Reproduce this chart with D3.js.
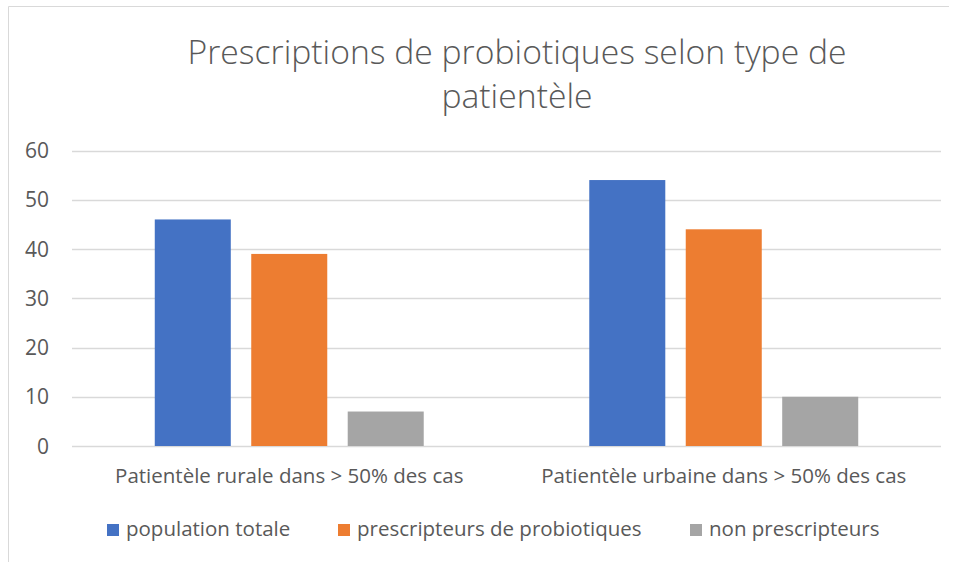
<!DOCTYPE html>
<html>
<head>
<meta charset="utf-8">
<script src="https://cdn.jsdelivr.net/npm/d3@7"></script>
<style>
  body { margin: 0; background: #fff; }
  text { font-family: "Open Sans", sans-serif; fill: #595959; }
</style>
</head>
<body>
<div id="chart"></div>
<script>
// data
const categories = ["Patientèle rurale dans > 50% des cas", "Patientèle urbaine dans > 50% des cas"];
const seriesNames = ["population totale", "prescripteurs de probiotiques", "non prescripteurs"];
const populationTotale = [46, 54];
const prescripteurs = [39, 44];
const nonPrescripteurs = [7, 10];
const yTicks = [0, 10, 20, 30, 40, 50, 60];
const colors = ["#4472C4", "#ED7D31", "#A5A5A5"];
const titleLines = ["Prescriptions de probiotiques selon type de", "patientèle"];

const seriesValues = [populationTotale, prescripteurs, nonPrescripteurs];
const table = categories.map((c, i) => ({
  cat: c,
  vals: seriesNames.map((s, j) => ({ name: s, value: seriesValues[j][i], idx: j }))
}));

const W = 958, H = 562;
const plot = { left: 72, right: 941, top: 150.5, bottom: 446 };

const svg = d3.select("#chart").append("svg")
    .attr("width", W)
    .attr("height", H);

svg.append("rect").attr("width", W).attr("height", H).attr("fill", "#fff");

// chart area border (top + left visible)
svg.append("path")
    .attr("d", "M8.5,562 V6.5 H949")
    .attr("fill", "none")
    .attr("stroke", "#d9d9d9")
    .attr("stroke-width", 1);

// title
svg.append("g").selectAll("text")
    .data(titleLines)
    .join("text")
    .attr("x", 517)
    .attr("y", (d, i) => 64 + i * 44)
    .attr("text-anchor", "middle")
    .style("font-size", "33.7px")
    .style("font-weight", 300)
    .text(d => d);

const y = d3.scaleLinear().domain([0, 60]).range([plot.bottom, plot.top]);
const x0 = d3.scaleBand().domain(categories).range([plot.left, plot.right]).padding(0);
const x1 = d3.scaleBand().domain(seriesNames).range([0, x0.bandwidth()])
    .paddingInner(0.212).paddingOuter(0.858);

// gridlines
svg.append("g").selectAll("line")
    .data(yTicks)
    .join("line")
    .attr("x1", plot.left)
    .attr("x2", plot.right)
    .attr("y1", d => Math.round(y(d)) + 0.5)
    .attr("y2", d => Math.round(y(d)) + 0.5)
    .attr("stroke", "#d9d9d9")
    .attr("stroke-width", 1.3);

// y axis labels
const yAxis = svg.append("g")
    .attr("transform", `translate(${plot.left - 23},0)`)
    .call(d3.axisLeft(y).tickValues(yTicks).tickSize(0).tickPadding(0));
yAxis.select(".domain").remove();
yAxis.selectAll("text")
    .attr("dy", "0.34em")
    .style("font-size", "21px")
    .style("font-family", "'Open Sans', sans-serif")
    .attr("fill", "#595959");

// bars
svg.append("g").selectAll("g")
    .data(table)
    .join("g")
    .attr("transform", d => `translate(${x0(d.cat)},0)`)
    .selectAll("rect")
    .data(d => d.vals)
    .join("rect")
    .attr("x", d => x1(d.name))
    .attr("y", d => y(d.value))
    .attr("width", x1.bandwidth())
    .attr("height", d => y(0) - y(d.value))
    .attr("fill", d => colors[d.idx]);

// x axis category labels
const xAxis = svg.append("g")
    .attr("transform", `translate(0,${plot.bottom + 37})`)
    .call(d3.axisBottom(x0).tickSize(0).tickPadding(0));
xAxis.select(".domain").remove();
xAxis.selectAll("text")
    .attr("dy", "0")
    .style("font-size", "20.5px")
    .style("font-family", "'Open Sans', sans-serif")
    .attr("fill", "#595959");

// legend
const legendX = [107, 338, 690];
const legend = svg.append("g").selectAll("g")
    .data(seriesNames)
    .join("g")
    .attr("transform", (d, i) => `translate(${legendX[i]},524)`);
legend.append("rect")
    .attr("width", 12)
    .attr("height", 12)
    .attr("fill", (d, i) => colors[i]);
legend.append("text")
    .attr("x", 19)
    .attr("y", 12)
    .style("font-size", "20.5px")
    .text(d => d);
</script>
</body>
</html>
